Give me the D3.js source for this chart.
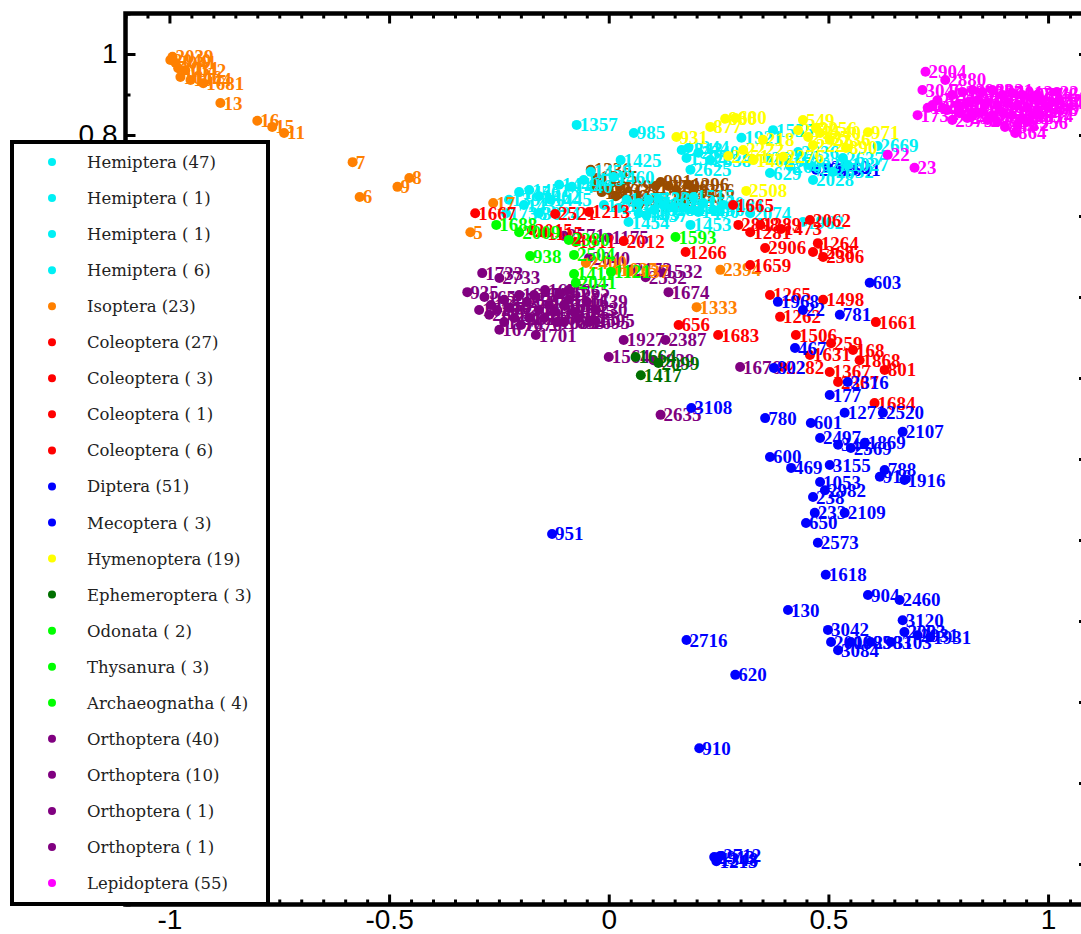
<!DOCTYPE html>
<html><head><meta charset="utf-8">
<script src="https://cdn.jsdelivr.net/npm/d3@7"></script>
<style>body{margin:0;background:#fff;overflow:hidden}</style>
</head><body>
<svg id="chart" width="1081" height="934"></svg>
<script>
// ---------- DATA ----------
const xTicks = [-1, -0.5, 0, 0.5, 1];
const xTickLabels = ["-1", "-0.5", "0", "0.5", "1"];
const yTicks = [-1, -0.8, -0.6, -0.4, -0.2, 0, 0.2, 0.4, 0.6, 0.8, 1];
const yTickLabels = ["-1", "-0.8", "-0.6", "-0.4", "-0.2", "0", "0.2", "0.4", "0.6", "0.8", "1"];

const legendNames = ["Hemiptera","Hemiptera","Hemiptera","Hemiptera","Isoptera","Coleoptera","Coleoptera","Coleoptera","Coleoptera","Diptera","Mecoptera","Hymenoptera","Ephemeroptera","Odonata","Thysanura","Archaeognatha","Orthoptera","Orthoptera","Orthoptera","Orthoptera","Lepidoptera"];
const legendCounts = ["47"," 1"," 1"," 6","23","27"," 3"," 1"," 6","51"," 3","19"," 3"," 2"," 3"," 4","40","10"," 1"," 1","55"];
const legendGroup = ["hemiptera","hemiptera","hemiptera","hemiptera","isoptera","coleoptera","coleoptera","coleoptera","coleoptera","diptera","mecoptera","hymenoptera","ephemeroptera","green","green","green","orthoptera","orthoptera","orthoptera","orthoptera","lepidoptera"];

const isoptera = [
 [-0.998,0.985,"2040"],[-0.993,0.993,"2039"],[-0.986,0.978,"2041"],[-0.980,0.965,"2031"],[-0.964,0.960,"1042"],
 [-0.975,0.943,"1046"],[-0.952,0.936,"1044"],[-0.923,0.928,"1681"],[-0.884,0.879,"13"],[-0.800,0.835,"16"],
 [-0.766,0.820,"15"],[-0.739,0.805,"11"],[-0.583,0.733,"7"],[-0.567,0.647,"6"],[-0.481,0.672,"9"],
 [-0.454,0.694,"8"],[-0.315,0.560,"5"],[-0.263,0.632,"17"],[0.254,0.467,"2394"],[0.200,0.375,"1333"],
 [0.045,0.462,"2037"],[-0.052,0.484,"2400"],[0.018,0.467,"1035"]
];
const hemiptera = [
 [-0.073,0.825,"1357"],[0.057,0.805,"985"],[0.027,0.738,"1425"],[0.011,0.696,"1460"],[-0.084,0.672,"1440"],
 [-0.204,0.659,"1456"],[-0.227,0.640,"1391"],[-0.234,0.607,"1736"],[-0.159,0.607,"3024"],[0.045,0.585,"1454"],
 [0.186,0.578,"1453"],[0.186,0.714,"2625"],[0.166,0.763,"2343"],[0.177,0.743,"1584"],[0.302,0.793,"1921"],
 [0.374,0.812,"1555"],[0.431,0.758,"2636"],[0.544,0.726,"1027"],[0.465,0.689,"2028"],[0.367,0.706,"629"],
 [0.612,0.773,"2669"],[0.322,0.607,"2074"],[0.442,0.585,"1962"],[0.193,0.615,"1465"],[0.193,0.647,"1515"],
 [0.068,0.632,"1471"],[0.091,0.640,"1526"],[0.113,0.644,"1331"],[0.125,0.627,"1528"],[0.147,0.622,"1613"],
 [0.170,0.620,"2471"],[0.204,0.610,"1490"],[0.215,0.632,"1520"],[0.238,0.615,"1503"],[0.261,0.627,"1481"],
 [0.068,0.607,"1483"],[0.086,0.602,"1437"],[0.102,0.615,"1628"],[0.023,0.620,"2434"],[0.041,0.640,"1455"],
 [-0.181,0.664,"1451"],[-0.159,0.649,"1462"],[-0.193,0.627,"1432"],[-0.132,0.640,"1445"],[-0.113,0.677,"1449"],
 [-0.057,0.689,"1429"],[-0.041,0.709,"1458"],[0.363,0.743,"2631"],[0.397,0.738,"1933"],[0.413,0.723,"2603"],
 [0.454,0.726,"2629"],[0.510,0.709,"2632"],[0.533,0.743,"2637"],[0.181,0.768,"1344"],[0.204,0.756,"2340"],
 [0.231,0.738,"2338"],[-0.011,0.627,"1431"]
];
const unlisted = [
 [-0.041,0.714,"1336"],[-0.027,0.694,"1225"],[-0.032,0.672,"1287"],[-0.016,0.659,"1301"],[0.000,0.664,"1233"],
 [0.016,0.649,"1262"],[0.027,0.674,"1291"],[0.045,0.640,"1217"],[0.068,0.627,"1209"],[0.086,0.644,"1224"],
 [0.107,0.674,"1221"],[0.118,0.684,"991"],[0.136,0.674,"1298"],[0.154,0.664,"1281"],[0.168,0.649,"1215"],
 [0.181,0.677,"1296"],[0.193,0.664,"1226"],[0.172,0.640,"1218"]
];
const coleoptera = [
 [-0.304,0.607,"1667"],[-0.175,0.565,"2015"],[-0.045,0.610,"1213"],[-0.122,0.605,"2521"],[0.175,0.511,"1266"],
 [0.283,0.627,"1665"],[0.034,0.538,"2012"],[-0.075,0.536,"1911"],[0.295,0.578,"2898"],[0.322,0.560,"1281"],
 [0.392,0.568,"1473"],[0.458,0.590,"2062"],[0.356,0.521,"2906"],[0.476,0.533,"1264"],[0.488,0.499,"2306"],
 [0.465,0.511,"1268"],[0.322,0.479,"1659"],[0.367,0.405,"1265"],[0.488,0.393,"1498"],[0.390,0.351,"1262"],
 [0.608,0.338,"1661"],[0.426,0.306,"1506"],[0.506,0.286,"259"],[0.458,0.257,"1631"],[0.556,0.269,"168"],
 [0.571,0.244,"1868"],[0.397,0.227,"2282"],[0.628,0.220,"801"],[0.503,0.215,"1367"],[0.605,0.138,"1684"],
 [0.159,0.331,"656"],[0.249,0.306,"1683"],[0.522,0.190,"2367"],[0.345,0.578,"1289"],[-0.147,0.558,"1115"]
];
const diptera = [
 [0.594,0.435,"603"],[0.385,0.388,"1968"],[0.442,0.368,"22"],[0.526,0.356,"781"],[0.424,0.274,"467"],
 [0.376,0.225,"802"],[0.544,0.190,"2316"],[0.503,0.158,"177"],[0.188,0.126,"3108"],[0.356,0.101,"780"],
 [0.537,0.114,"1271"],[0.624,0.114,"2520"],[0.460,0.089,"601"],[0.669,0.067,"2107"],[0.481,0.052,"2497"],
 [0.522,0.035,"344"],[0.551,0.027,"2569"],[0.583,0.040,"1869"],[0.367,0.005,"600"],[0.415,-0.022,"469"],
 [0.503,-0.015,"3155"],[0.628,-0.027,"788"],[0.617,-0.044,"916"],[0.673,-0.052,"1916"],[0.481,-0.057,"1053"],
 [0.492,-0.077,"2982"],[0.465,-0.094,"238"],[0.469,-0.133,"233"],[0.537,-0.133,"2109"],[0.449,-0.158,"650"],
 [0.476,-0.207,"2573"],[-0.129,-0.185,"951"],[0.494,-0.286,"1618"],[0.590,-0.336,"904"],[0.662,-0.348,"2460"],
 [0.408,-0.373,"130"],[0.669,-0.398,"3120"],[0.499,-0.422,"3042"],[0.673,-0.427,"2093"],[0.703,-0.435,"2931"],
 [0.732,-0.440,"1931"],[0.506,-0.452,"2006"],[0.551,-0.452,"1983"],[0.596,-0.452,"2983"],[0.642,-0.452,"3103"],
 [0.522,-0.472,"3084"],[0.177,-0.447,"2716"],[0.288,-0.533,"620"],[0.206,-0.714,"910"],[0.240,-0.983,"2913"],
 [0.247,-0.988,"1348"],[0.254,-0.980,"2712"],[0.245,-0.993,"1213"]
];
const mecoptera = [
 [0.472,0.714,"2639"],[0.499,0.719,"2640"],[0.526,0.714,"2641"]
];
const hymenoptera = [
 [0.154,0.795,"931"],[0.231,0.820,"877"],[0.265,0.840,"880"],[0.288,0.842,"680"],[0.272,0.748,"2251"],
 [0.329,0.738,"1402"],[0.397,0.746,"2276"],[0.351,0.788,"218"],[0.442,0.837,"549"],[0.472,0.817,"2256"],
 [0.590,0.807,"971"],[0.540,0.768,"890"],[0.313,0.662,"2508"],[0.431,0.812,"2349"],[0.454,0.795,"2335"],
 [0.481,0.805,"2540"],[0.503,0.788,"2236"],[0.465,0.775,"2229"],[0.306,0.763,"2222"]
];
const ephemeroptera = [
 [0.061,0.252,"1664"],[0.113,0.237,"2099"],[0.073,0.207,"1417"]
];
const greenGroup = [
 [-0.256,0.578,"1688"],[-0.204,0.560,"2009"],[-0.179,0.501,"938"],[-0.091,0.541,"2380"],[-0.079,0.504,"2504"],
 [0.152,0.548,"1593"],[-0.079,0.457,"1411"],[-0.075,0.435,"2041"],[0.005,0.462,"1121"]
];
const orthoptera = [
 [-0.288,0.459,"1733"],[-0.249,0.447,"2733"],[-0.322,0.412,"935"],[-0.186,0.388,"258"],[-0.113,0.410,"1675"],
 [-0.029,0.368,"230"],[-0.068,0.348,"1635"],[-0.045,0.338,"1695"],[-0.249,0.319,"1677"],[-0.166,0.306,"1701"],
 [-0.283,0.400,"1652"],[-0.268,0.380,"1655"],[-0.272,0.356,"2615"],[-0.254,0.368,"1662"],[-0.238,0.393,"2558"],
 [-0.227,0.373,"1658"],[-0.215,0.348,"1669"],[-0.204,0.405,"1637"],[-0.170,0.405,"1645"],[-0.159,0.368,"1630"],
 [-0.147,0.348,"1663"],[-0.136,0.380,"1673"],[-0.125,0.363,"1639"],[-0.102,0.380,"1648"],[-0.091,0.393,"1651"],
 [-0.079,0.363,"1665"],[-0.102,0.338,"1653"],[-0.050,0.388,"1639"],[-0.034,0.343,"2595"],[-0.238,0.338,"1671"],
 [-0.200,0.331,"1676"],[-0.295,0.368,"1650"],[-0.181,0.348,"1633"],[-0.145,0.417,"1675"],[-0.118,0.338,"1685"],
 [-0.091,0.417,"1665"],[0.050,0.467,"2173"],[0.084,0.449,"2532"],[0.136,0.412,"1674"],[0.034,0.294,"1927"],
 [0.129,0.294,"2387"],[0.000,0.252,"1564"],[0.102,0.244,"1939"],[0.118,0.109,"2635"],[0.299,0.227,"1676"],
 [-0.102,0.551,"2571"],[-0.045,0.496,"2040"],[0.000,0.546,"1175"],[0.120,0.462,"1532"]
];
const lepidoptera = [
 [0.721,0.956,"2904"],[0.766,0.936,"2880"],[0.714,0.911,"3046"],[0.737,0.874,"1260"],[0.703,0.849,"1734"],
 [0.925,0.805,"864"],[0.930,0.825,"782"],[0.982,0.849,"597"],[1.025,0.886,"2233"],[0.635,0.751,"22"],
 [0.696,0.719,"23"],[0.782,0.899,"2998"],[0.805,0.906,"2950"],[0.828,0.911,"2962"],[0.850,0.906,"3007"],
 [0.873,0.911,"2921"],[0.896,0.899,"2946"],[0.918,0.904,"3012"],[0.941,0.899,"2977"],[0.964,0.891,"2913"],
 [0.986,0.886,"3030"],[1.009,0.881,"2245"],[0.794,0.874,"2990"],[0.816,0.879,"2947"],[0.839,0.886,"2960"],
 [0.862,0.881,"2995"],[0.884,0.874,"3019"],[0.907,0.879,"2931"],[0.930,0.874,"2984"],[0.952,0.867,"3001"],
 [0.975,0.862,"2968"],[0.771,0.862,"1738"],[0.798,0.854,"2952"],[0.828,0.849,"2963"],[0.850,0.857,"2944"],
 [0.873,0.849,"3025"],[0.896,0.857,"2939"],[0.918,0.849,"2958"],[0.941,0.842,"2987"],[0.964,0.849,"2914"],
 [0.748,0.886,"2911"],[0.760,0.867,"2969"],[0.862,0.837,"2979"],[0.884,0.832,"2996"],[0.902,0.820,"884"],
 [0.816,0.842,"2942"],[1.000,0.867,"2997"],[0.975,0.899,"2948"],[1.020,0.906,"2249"],[0.726,0.867,"1270"],
 [0.782,0.837,"2975"],[0.952,0.832,"2956"]
];

const groupColors = {
  hemiptera: "#00f0f5", isoptera: "#ff8000", coleoptera: "#ff0000", diptera: "#0000ff",
  mecoptera: "#0000ff", hymenoptera: "#ffff00", ephemeroptera: "#007000", green: "#00ff00",
  orthoptera: "#800080", lepidoptera: "#ff00ff", unlisted: "#994c00"
};
const groups = {
  mecoptera, hemiptera, unlisted, hymenoptera, orthoptera, isoptera, coleoptera,
  diptera, ephemeroptera, green: greenGroup, lepidoptera
};
const drawOrder = ["unlisted","mecoptera","hemiptera","hymenoptera","orthoptera","isoptera","coleoptera","diptera","ephemeroptera","green","lepidoptera"];

// ---------- CHART ----------
const svg = d3.select("#chart");
const x = d3.scaleLinear().domain([-1.1, 1.1]).range([125.5, 1092]);
const y = d3.scaleLinear().domain([-1.1, 1.1]).range([904.5, 13.5]);

const xMinor = d3.range(-22, 23).map(i => i * 0.05).filter(v => !xTicks.some(t => Math.abs(t - v) < 1e-9));
const yMinor = d3.range(-11, 12).map(i => i * 0.1).filter(v => !yTicks.some(t => Math.abs(t - v) < 1e-9));

function styleAxis(g) {
  g.select(".domain").remove();
  g.selectAll(".tick line").attr("stroke", "#000").attr("stroke-width", 3);
}
const tickFont = "'Liberation Sans', Arial, sans-serif";

// bottom
svg.append("g").attr("transform", `translate(0,${y(-1.1)})`)
  .call(d3.axisBottom(x).tickValues(xTicks).tickSizeInner(-10).tickSizeOuter(0).tickPadding(5)
    .tickFormat((d, i) => xTickLabels[i]))
  .call(styleAxis)
  .call(g => g.selectAll("text").attr("font-family", tickFont).attr("font-size", 28).attr("fill", "#000"));
svg.append("g").attr("transform", `translate(0,${y(-1.1)})`)
  .call(d3.axisBottom(x).tickValues(xMinor).tickSizeInner(-5).tickSizeOuter(0).tickFormat(""))
  .call(styleAxis);
// top
svg.append("g").attr("transform", `translate(0,${y(1.1)})`)
  .call(d3.axisTop(x).tickValues(xTicks).tickSizeInner(-10).tickSizeOuter(0).tickFormat(""))
  .call(styleAxis);
svg.append("g").attr("transform", `translate(0,${y(1.1)})`)
  .call(d3.axisTop(x).tickValues(xMinor).tickSizeInner(-5).tickSizeOuter(0).tickFormat(""))
  .call(styleAxis);
// left
svg.append("g").attr("transform", `translate(${x(-1.1)},0)`)
  .call(d3.axisLeft(y).tickValues(yTicks).tickSizeInner(-10).tickSizeOuter(0).tickPadding(8)
    .tickFormat((d, i) => yTickLabels[i]))
  .call(styleAxis)
  .call(g => g.selectAll("text").attr("font-family", tickFont).attr("font-size", 28).attr("fill", "#000"));
svg.append("g").attr("transform", `translate(${x(-1.1)},0)`)
  .call(d3.axisLeft(y).tickValues(yMinor).tickSizeInner(-5).tickSizeOuter(0).tickFormat(""))
  .call(styleAxis);
// right
svg.append("g").attr("transform", `translate(${x(1.1)},0)`)
  .call(d3.axisRight(y).tickValues(yTicks).tickSizeInner(-13).tickSizeOuter(0).tickFormat(""))
  .call(styleAxis);

// frame
svg.append("rect")
  .attr("x", x(-1.1)).attr("y", y(1.1))
  .attr("width", x(1.1) - x(-1.1)).attr("height", y(-1.1) - y(1.1))
  .attr("fill", "none").attr("stroke", "#000").attr("stroke-width", 4.5);

// points
const plot = svg.append("g");
drawOrder.forEach(key => {
  const data = groups[key];
  const color = groupColors[key];
  const g = plot.append("g").attr("class", "grp-" + key);
  data.forEach(d => {
    g.append("circle").attr("cx", x(d[0])).attr("cy", y(d[1])).attr("r", 5).attr("fill", color);
    g.append("text").attr("x", x(d[0]) + 3).attr("y", y(d[1]) + 6.5)
      .attr("font-family", "'Liberation Serif', 'Times New Roman', serif")
      .attr("font-size", 19).attr("font-weight", "bold").attr("fill", color).text(d[2]);
  });
});

// legend
const leg = svg.append("g");
leg.append("rect").attr("x", 12).attr("y", 142).attr("width", 256).attr("height", 762)
  .attr("fill", "#fff").attr("stroke", "#000").attr("stroke-width", 4);
const rowY = d3.scaleLinear().domain([0, legendNames.length - 1]).range([162, 883]);
legendNames.forEach((name, i) => {
  leg.append("circle").attr("cx", 52).attr("cy", rowY(i)).attr("r", 4).attr("fill", groupColors[legendGroup[i]]);
  leg.append("text").attr("x", 87).attr("y", rowY(i) + 6)
    .attr("font-family", "'DejaVu Serif', serif").attr("font-size", 16.5).attr("fill", "#222")
    .style("white-space", "pre")
    .text(`${name} (${legendCounts[i]})`);
});
</script>
</body></html>
